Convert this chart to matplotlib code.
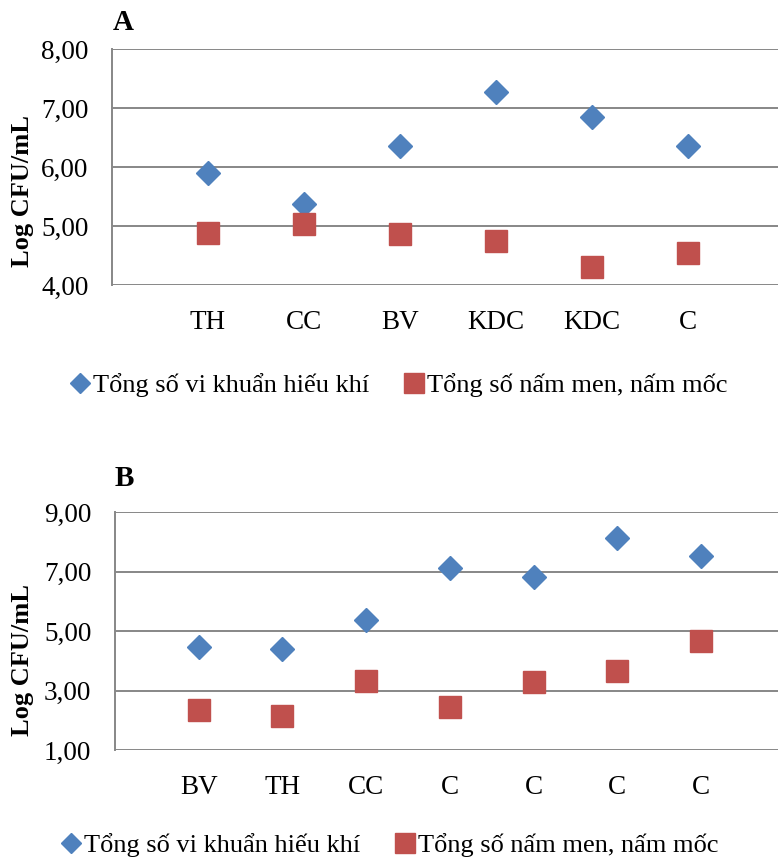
import numpy as np
import matplotlib
matplotlib.use('Agg')
import matplotlib.pyplot as plt
from matplotlib.lines import Line2D
from matplotlib.ticker import FuncFormatter

# data
cats_a = ['TH', 'CC', 'BV', 'KDC', 'KDC', 'C']
aerobic_a = [5.90, 5.38, 6.35, 7.27, 6.84, 6.35]
yeast_a = [4.88, 5.04, 4.86, 4.75, 4.31, 4.55]

cats_b = ['BV', 'TH', 'CC', 'C', 'C', 'C', 'C']
aerobic_b = [4.45, 4.38, 5.36, 7.11, 6.81, 8.11, 7.52]
yeast_b = [2.36, 2.15, 3.31, 2.45, 3.29, 3.67, 4.68]

label_aer = 'Tổng số vi khuẩn hiếu khí'
label_yst = 'Tổng số nấm men, nấm mốc'

# plot settings
fs = 19.5
blue = '#4F81BD'
red = '#C0504D'
grid_c = '#878787'
plt.rcParams['font.family'] = ['Liberation Serif', 'DejaVu Serif']
plt.rcParams['font.size'] = fs

fig = plt.figure(figsize=(7.78, 8.60), dpi=100)
W, H = 778, 860

def make_panel(box, cats, aer, yst, yticks, xmax, letter, letter_xy, ylab_y, leg_xy):
    l, t, r, b = box
    ax = fig.add_axes([l / W, 1 - b / H, (r - l) / W, (b - t) / H])
    x = np.arange(1, len(cats) + 1)
    ax.plot(x, aer, linestyle='none', marker='D', markersize=12.3, color=blue, zorder=3, clip_on=False)
    ax.plot(x, yst, linestyle='none', marker='s', markersize=15.5, color=red, zorder=3, clip_on=False)
    ax.set_xlim(0, xmax)
    ax.set_ylim(yticks[0], yticks[-1])
    ax.set_yticks(yticks)
    ax.yaxis.set_major_formatter(FuncFormatter(lambda v, p: f'{v:.2f}'.replace('.', ',')))
    ax.set_xticks(x)
    ax.set_xticklabels(cats)
    ax.tick_params(axis='x', length=0, pad=18, labelsize=fs)
    ax.tick_params(axis='y', length=0, pad=17, labelsize=fs)
    ax.grid(axis='y', color=grid_c, linewidth=1.4, zorder=0)
    for s in ['top', 'right', 'bottom']:
        ax.spines[s].set_visible(False)
    ax.spines['left'].set_color(grid_c)
    ax.spines['left'].set_linewidth(1.4)
    ax.set_ylabel('Log CFU/mL', fontweight='bold', fontsize=19)
    ax.yaxis.set_label_coords((34 - l) / (r - l), ylab_y)
    fig.text(letter_xy[0] / W, 1 - letter_xy[1] / H, letter, fontweight='bold', fontsize=21,
             ha='left', va='center')
    handles = [Line2D([], [], linestyle='none', marker='D', markersize=10.5, color=blue),
               Line2D([], [], linestyle='none', marker='s', markersize=14, color=red)]
    fig.legend(handles, [label_aer, label_yst], loc='center', ncol=2, frameon=False,
               bbox_to_anchor=(leg_xy[0] / W, 1 - leg_xy[1] / H), fontsize=19,
               handlelength=0.6, handletextpad=0.2, columnspacing=1.4, borderpad=0)
    return ax

make_panel((112, 49, 778, 285), cats_a, aerobic_a, yeast_a, [4, 5, 6, 7, 8],
           6.94, 'A', (113, 22), 0.40, (400, 385))
make_panel((115, 512, 778, 750), cats_b, aerobic_b, yeast_b, [1, 3, 5, 7, 9],
           7.92, 'B', (115, 478), 0.38, (391, 845))

plt.savefig('out.png', dpi=100)
plt.close()
